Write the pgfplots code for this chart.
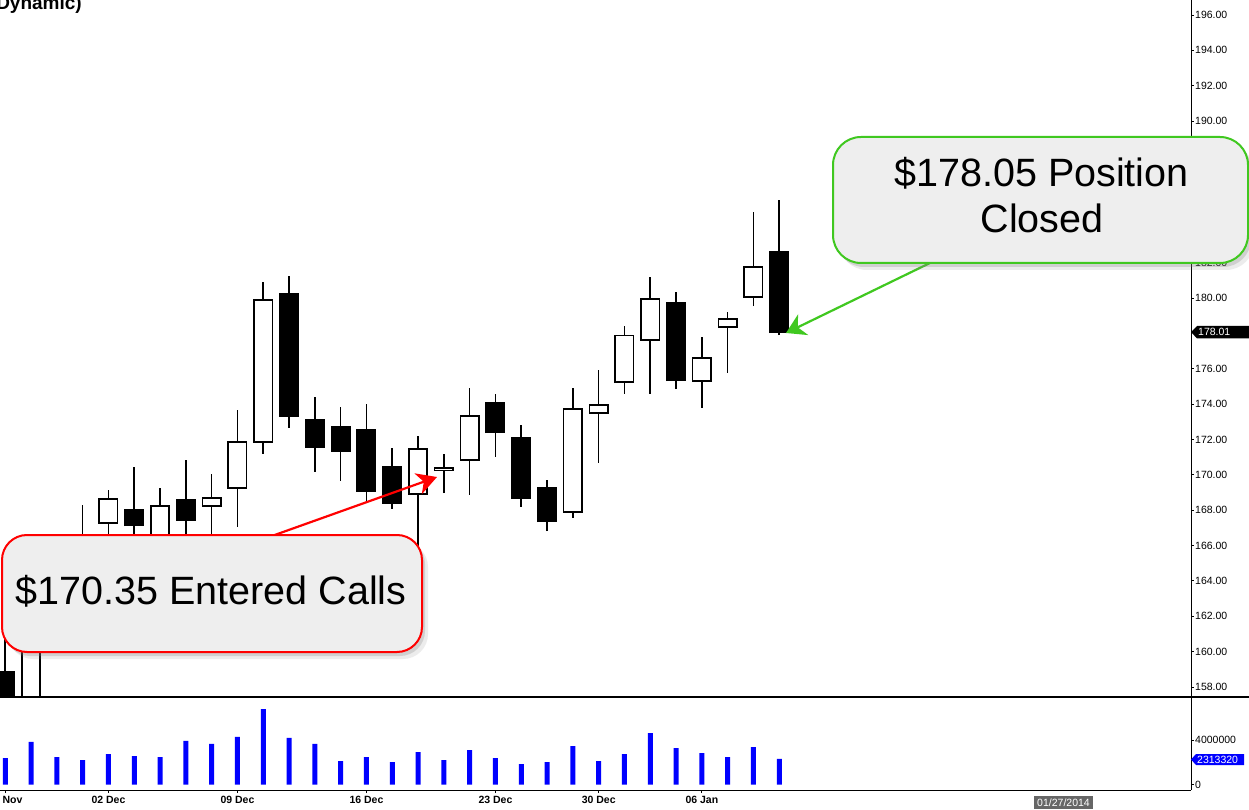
\documentclass[border=0pt]{standalone}
\usepackage{fontspec}
\setmainfont{Liberation Sans}
\usepackage{pgfplots}
\pgfplotsset{compat=1.18}
\usepackage{pgfplotstable}
\usetikzlibrary{arrows.meta,shadows}

\definecolor{calloutbg}{HTML}{EEEEEE}
\definecolor{callred}{HTML}{FF0000}
\definecolor{callgreen}{RGB}{64,200,32}
\definecolor{volblue}{HTML}{0000FF}
\definecolor{datebox}{HTML}{666666}

% daily bars, 25 Nov 2013 .. 09 Jan 2014 (i = trading day)
\pgfplotstableread{
i open high low close vol
0 158.90 160.80 156.50 157.00 2390000
1 157.10 164.00 156.70 163.40 3840000
2 163.60 166.00 162.90 165.20 2480000
3 166.30 168.29 165.30 165.80 2210000
4 167.22 169.14 166.30 168.69 2750000
5 168.07 170.44 166.20 167.10 2570000
6 166.30 169.25 165.80 168.29 2480000
7 168.63 170.84 166.40 167.39 3930000
8 168.18 170.04 166.60 168.74 3660000
9 169.20 173.66 167.05 171.91 4290000
10 171.80 180.90 171.18 179.94 6810000
11 180.28 181.24 172.65 173.27 4200000
12 173.15 174.40 170.16 171.52 3660000
13 172.76 173.83 169.65 171.29 2120000
14 172.59 174.00 168.41 169.03 2480000
15 170.50 171.52 168.07 168.35 2030000
16 168.86 172.19 166.00 171.52 2930000
17 170.21 171.18 168.97 170.44 2210000
18 170.78 174.91 168.86 173.38 3110000
19 174.12 174.57 171.01 172.36 2390000
20 172.14 172.82 168.18 168.63 1850000
21 169.31 169.71 166.82 167.33 2030000
22 167.84 174.91 167.56 173.78 3470000
23 173.44 175.93 170.67 174.00 2120000
24 175.19 178.41 174.57 177.91 2750000
25 177.57 181.19 174.57 180.00 4650000
26 179.77 180.34 174.85 175.30 3290000
27 175.25 177.79 173.78 176.66 2840000
28 178.30 179.21 175.76 178.87 2480000
29 180.00 184.86 179.54 181.81 3380000
30 182.66 185.54 177.90 178.01 2313320
}\ohlc

\pgfplotsset{
  chartbase/.style={
    scale only axis,
    xmin=-0.3992, xmax=45.957,
    axis line style={draw=none},
    tick align=outside,
    major tick length=3pt,
    tick style={black, line width=0.8pt},
    ytick pos=right,
    yticklabel pos=right,
    /pgf/number format/assume math mode=true,
    ticklabel style={font=\fontsize{10.5}{12}\selectfont},
    yticklabel style={inner sep=1pt},
  },
  candle/.style 2 args={draw=none, mark=none, forget plot,
    error bars/.cd, y dir=plus, y explicit, error mark=none,
    error bar style={draw=#1, line width=#2}},
}

\begin{document}
\begin{tikzpicture}[x=1pt,y=1pt]
\fill[white] (0,0) rectangle (1249,809);

% price panel
\begin{axis}[chartbase,
  at={(-5pt,112pt)}, anchor=south west,
  width=1196pt, height=707pt,
  ymin=157.4345, ymax=197.414,
  xtick=\empty,
  ytick={158,160,...,176,180,182,...,196},
  yticklabel={\pgfmathprintnumber[fixed,fixed zerofill,precision=2]{\tick}},
]
  % wicks
  \addplot[candle={black}{1.6pt}]
    table[x=i, y=low, y error plus expr={\thisrow{high}-\thisrow{low}}] {\ohlc};
  % bodies
  \addplot[candle={black}{20pt}]
    table[x=i, y expr={min(\thisrow{open},\thisrow{close})},
      y error plus expr={abs(\thisrow{close}-\thisrow{open})}] {\ohlc};
  % hollow inside of up days
  \addplot[candle={white}{16.8pt}]
    table[x=i, y expr={\thisrow{open}+0.09},
      y error plus expr={max(0,\thisrow{close}-\thisrow{open}-0.18)}] {\ohlc};
\end{axis}

% volume panel
\begin{axis}[chartbase,
  at={(-5pt,19pt)}, anchor=south west,
  width=1196pt, height=93pt,
  ymin=-496600, ymax=7900700,
  ytick={0,4000000}, yticklabels={0,4000000},
  scaled y ticks=false,
  xtick={0,4,9,14,19,23,27},
  xticklabels={25 Nov,02 Dec,09 Dec,16 Dec,23 Dec,30 Dec,06 Jan},
  xtick pos=left,
  xticklabel style={font=\bfseries\fontsize{10.5}{12}\selectfont},
]
  \addplot[ybar, bar width=5pt, fill=volblue, draw=none] table[x=i, y=vol] {\ohlc};
\end{axis}

% frame lines
\draw[line width=1pt] (1191,820) -- (1191,19);
\draw[line width=1pt] (0,19) -- (1191,19);
\draw[line width=2.5pt] (0,112) -- (1249,112);

% last value tags
\fill[black] (1191,477) -- (1197,483) -- (1260,483) -- (1260,470.5) -- (1197,470.5) -- cycle;
\node[anchor=west, white, inner sep=0pt, font=\fontsize{10.5}{12}\selectfont] at (1198,477) {178.01};
\fill[volblue] (1191,49.5) -- (1196,55) -- (1244,55) -- (1244,44) -- (1196,44) -- cycle;
\node[anchor=west, white, inner sep=0pt, font=\fontsize{10.5}{12}\selectfont] at (1197,49.5) {2313320};
\fill[datebox] (1034,0) rectangle (1093,13);
\node[white, inner sep=0pt, font=\fontsize{10.5}{12}\selectfont] at (1063.5,6.5) {01/27/2014};

% title remnant
\node[anchor=base east, inner sep=0pt, font=\bfseries\fontsize{19}{22}\selectfont] at (82,799) {(Dynamic)};

% annotations
\draw[callred, line width=2.2pt, -{Stealth[length=20pt,width=22pt,inset=6pt]}] (268,271.6) -- (437,332);
\draw[callgreen, line width=2.2pt, -{Stealth[length=19pt,width=23pt,inset=6pt]}] (939,550.4) -- (786,476);

\draw[callred, line width=2pt, fill=calloutbg, rounded corners=25pt,
  drop shadow={shadow xshift=6pt, shadow yshift=-7pt, opacity=0.15},
  drop shadow={shadow xshift=3pt, shadow yshift=-4pt, opacity=0.25}]
  (2,157) rectangle (422,274);
\node[anchor=base, inner sep=0pt, font=\fontsize{39.5}{46}\selectfont] at (211,205) {\$170.35 Entered Calls};

\draw[callgreen, line width=2pt, fill=calloutbg, rounded corners=28pt,
  drop shadow={shadow xshift=6pt, shadow yshift=-7pt, opacity=0.15},
  drop shadow={shadow xshift=3pt, shadow yshift=-4pt, opacity=0.25}]
  (833,546) rectangle (1248,672);
\node[anchor=base, inner sep=0pt, font=\fontsize{39.5}{46}\selectfont] at (1041.5,622.3) {\$178.05 Position};
\node[anchor=base, inner sep=0pt, font=\fontsize{39.5}{46}\selectfont] at (1042,576) {Closed};

\pgfresetboundingbox
\useasboundingbox (0,0) rectangle (1249,809);
\end{tikzpicture}
\end{document}
